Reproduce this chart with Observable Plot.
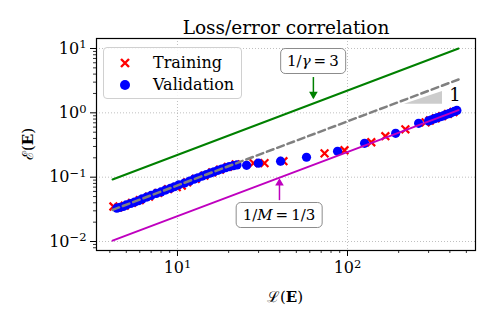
<!DOCTYPE html>
<html><head><meta charset="utf-8">
<script src="https://cdn.jsdelivr.net/npm/d3@7"></script>
<script src="https://cdn.jsdelivr.net/npm/@observablehq/plot@0.6"></script>
<style>
body{margin:0;background:#fff;}
#wrap{position:relative;width:492px;height:328px;font-family:"DejaVu Serif",serif;color:#000;}
.box{position:absolute;transform:translate(-50%,-50%);border:1.3px solid #8c8c8c;border-radius:5px;background:#fff;padding:3px 6px;font-size:15px;white-space:nowrap;line-height:18px;}
.lab{position:absolute;font-size:15px;white-space:nowrap;transform:translate(-50%,-50%);}
#legend{position:absolute;left:103px;top:47px;width:137px;height:50px;border:1px solid #d0d0d0;border-radius:4px;background:rgba(255,255,255,0.85);font-size:16px;}
#legend .row{position:absolute;left:0;height:20px;line-height:20px;}
</style></head><body><div id="wrap"></div>
<script>
// Training (red x)
const trainL = [4.2,4.5,4.9,5.4,6.0,6.8,7.7,8.8,9.9,10.6,11.4,12.8,14.4,16.0,17.8,19.8,22.0,28,32.5,42,73.3,96,138,167,219,288,305,330,360,390,420];
const trainE = [0.035,0.034,0.036,0.040,0.044,0.050,0.057,0.065,0.070,0.074,0.083,0.094,0.106,0.119,0.131,0.145,0.158,0.165,0.165,0.177,0.235,0.262,0.349,0.433,0.555,0.71,0.76,0.82,0.89,0.96,1.03];
// Validation (blue circles)
const valL = [4.4,4.6,4.8,5.0,5.3,5.6,5.9,6.2,6.6,7.0,7.5,8.0,8.5,9.1,9.6,10.2,11.0,11.8,12.5,13.2,14.0,14.8,15.6,16.4,17.3,18.2,19.2,20.2,21.3,22.4,25.5,29.9,40.4,57.4,87.4,126,192,262,300,312,325,338,352,366,380,395,410,425,440];
const valE = [0.033,0.034,0.035,0.037,0.039,0.041,0.043,0.046,0.049,0.052,0.056,0.059,0.063,0.067,0.071,0.076,0.081,0.087,0.093,0.098,0.104,0.110,0.116,0.121,0.128,0.134,0.140,0.146,0.151,0.155,0.153,0.165,0.177,0.204,0.253,0.336,0.481,0.687,0.75,0.78,0.81,0.84,0.87,0.90,0.94,0.97,1.01,1.05,1.09];
// Reference lines (endpoints)
const lineL = [4.15, 450];
const greenE = [0.092, 10];
const grayE = [0.031, 3.3];
const magentaE = [0.0103, 1.1];
// Annotations
const annL = [63, 39.8];
const annTipE = [1.74, 0.09];
const annTailE = [3.6, 0.044];
const annTextE = [6.3, 0.0258];
const annColor = ["green", "#bf00bf"];
const annText = ["1/<i>γ</i>\u2009=\u20093", "1/<i>M</i>\u2009=\u20091/3"];
// Slope triangle
const triL = [216, 362];
const triLow = [1.355, 1.355];
const triHigh = [1.355, 2.15];
const slopeLabel = {L: 428, E: 1.87, text: "1"};
// Ticks
const xMajor = [10, 100];
const yMajor = [0.01, 0.1, 1, 10];
const xMinor = [4,5,6,7,8,9,20,30,40,50,60,70,80,90,200,300,400,500];
const yMinor = [0.008,0.009,0.02,0.03,0.04,0.05,0.06,0.07,0.08,0.09,0.2,0.3,0.4,0.5,0.6,0.7,0.8,0.9,2,3,4,5,6,7,8,9];
const fmt = d => "10^" + String(Math.round(Math.log10(d)));

const train = trainL.map((L,i) => ({L, E: trainE[i]}));
const val = valL.map((L,i) => ({L, E: valE[i]}));
const mk = arr => lineL.map((L,i) => ({L, E: arr[i]}));
const ann = annL.map((L,i) => ({L, tip: annTipE[i], tail: annTailE[i], te: annTextE[i], c: annColor[i], t: annText[i]}));
const tri = triL.map((L,i) => ({L, lo: triLow[i], hi: triHigh[i]}));

const plot = Plot.plot({
  width: 492, height: 328,
  marginLeft: 96, marginRight: 17, marginTop: 38, marginBottom: 78,
  style: {fontFamily: "DejaVu Serif", fontSize: "15px", background: "white", color: "black"},
  x: {type: "log", domain: [3.34, 566]},
  y: {type: "log", domain: [0.00725, 14.3]},
  marks: [
    Plot.gridX(xMajor, {stroke: "#b0b0b0", strokeOpacity: 1, strokeWidth: 0.8, strokeDasharray: "1,2"}),
    Plot.gridY(yMajor, {stroke: "#b0b0b0", strokeOpacity: 1, strokeWidth: 0.8, strokeDasharray: "1,2"}),
    Plot.axisX({ticks: xMajor, tickSize: 6, tickPadding: 5, tickFormat: fmt, fontSize: 16, label: null, strokeWidth: 1}),
    Plot.axisX({ticks: xMinor, tickSize: 3, tickFormat: () => "", label: null, strokeWidth: 0.8}),
    Plot.axisY({ticks: yMajor, tickSize: 6, tickPadding: 4, tickFormat: fmt, fontSize: 16, label: null, strokeWidth: 1}),
    Plot.axisY({ticks: yMinor, tickSize: 3, tickFormat: () => "", label: null, strokeWidth: 0.8}),
    Plot.areaY(tri, {x: "L", y1: "lo", y2: "hi", fill: "#cccccc"}),
    Plot.text([slopeLabel], {x: "L", y: "E", text: "text", fontSize: 18}),
    Plot.line(mk(greenE), {x: "L", y: "E", stroke: "green", strokeWidth: 2}),
    Plot.dot(train, {x: "L", y: "E", symbol: "times", stroke: "red", strokeWidth: 2.2, r: 3.6}),
    Plot.dot(val, {x: "L", y: "E", fill: "blue", r: 4.6}),
    Plot.line(mk(grayE), {x: "L", y: "E", stroke: "gray", strokeWidth: 2.5, strokeDasharray: "7,4"}),
    Plot.line(mk(magentaE), {x: "L", y: "E", stroke: "#bf00bf", strokeWidth: 2}),
    Plot.link(ann, {x: "L", y1: "tail", y2: "tip", stroke: "c", strokeWidth: 1.5}),
    Plot.dot([ann[0]], {x: "L", y: "tip", symbol: "triangle", rotate: 180, fill: "c", r: 3.2, dy: -3}),
    Plot.dot([ann[1]], {x: "L", y: "tip", symbol: "triangle", fill: "c", r: 3.2, dy: 3}),
    Plot.frame({stroke: "black", strokeWidth: 1.2}),
    Plot.text(["Loss/error correlation"], {frameAnchor: "top", dy: -18, fontSize: 18.5, text: d => d})
  ]
});
// render exponents as superscripts
d3.select(plot).selectAll("text").each(function() {
  const t = this.textContent;
  if (/^10\^-?\d+$/.test(t)) {
    const e = t.split("^")[1].replace("-", "\u2212");
    const s = d3.select(this);
    s.text(null);
    s.attr("font-size", 16).style("font-size", "16px");
    s.append("tspan").text("10");
    s.append("tspan").attr("dy", "-0.45em").attr("font-size", "11.5px").text(e);
  }
});
const wrap = document.getElementById("wrap");
wrap.appendChild(plot);
const sx = plot.scale("x"), sy = plot.scale("y");
for (const a of ann) {
  const d = document.createElement("div");
  d.className = "box";
  d.innerHTML = a.t;
  d.style.left = sx.apply(a.L) + "px";
  d.style.top = sy.apply(a.te) + "px";
  wrap.appendChild(d);
}
const xl = document.createElement("div");
xl.className = "lab"; xl.innerHTML = "ℒ(<b>E</b>)";
xl.style.left = "285px"; xl.style.top = "296px";
wrap.appendChild(xl);
const yl = document.createElement("div");
yl.className = "lab"; yl.innerHTML = "ℰ(<b>E</b>)";
yl.style.left = "27px"; yl.style.top = "144px";
yl.style.transform = "translate(-50%,-50%) rotate(-90deg)";
wrap.appendChild(yl);
const lg = document.createElement("div");
lg.id = "legend";
lg.innerHTML = `
<div class="row" style="top:5px;left:14px"><svg width="14" height="20"><path d="M3,6L11,14M11,6L3,14" stroke="red" stroke-width="2.4"/></svg></div>
<div class="row" style="top:5px;left:49px">Training</div>
<div class="row" style="top:27px;left:14px"><svg width="14" height="20"><circle cx="7" cy="10" r="5" fill="blue"/></svg></div>
<div class="row" style="top:27px;left:49px">Validation</div>`;
wrap.appendChild(lg);
</script></body></html>
